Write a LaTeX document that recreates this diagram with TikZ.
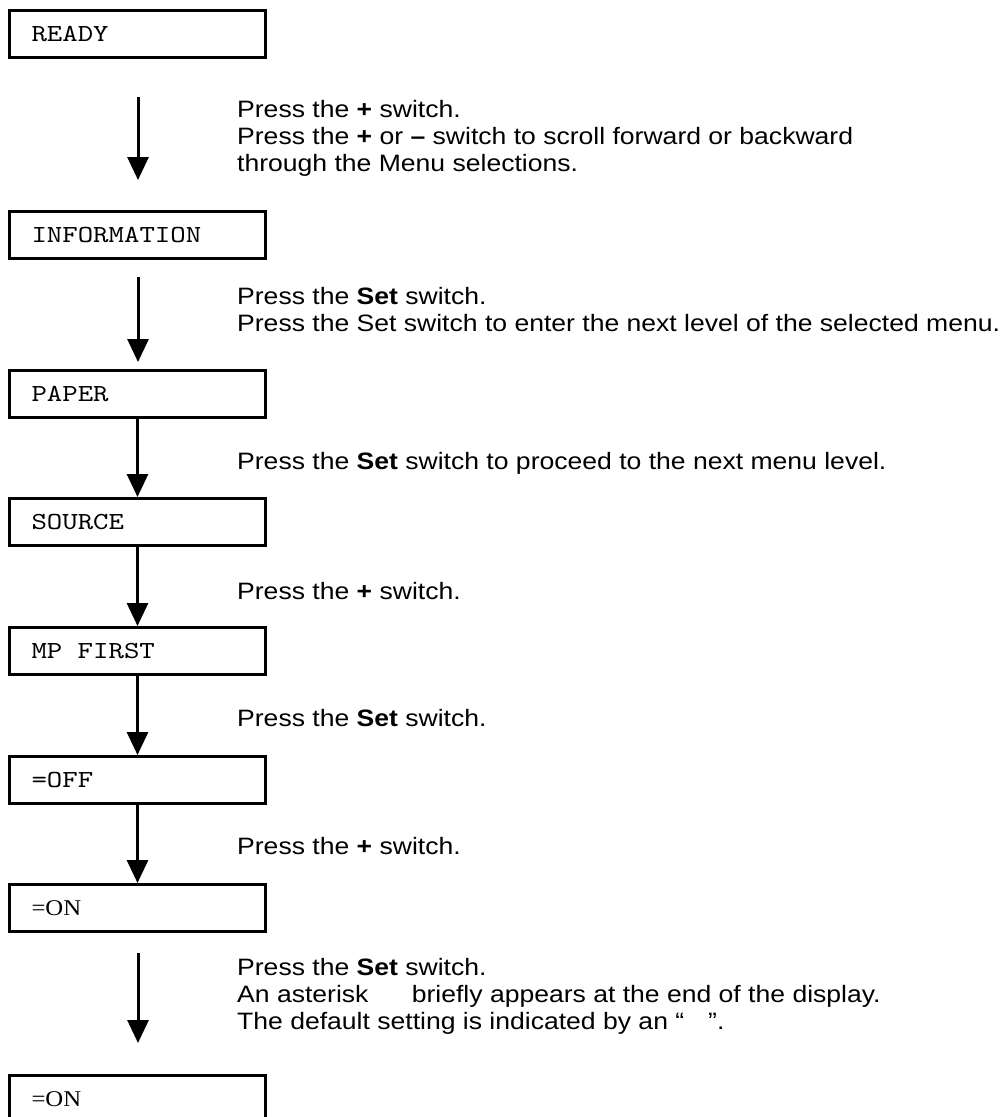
\documentclass[tikz,border=0pt]{standalone}
\usepackage{fontspec}
\usetikzlibrary{arrows.meta}
\newfontfamily\menufont[FakeStretch=1.12]{Liberation Sans}
\newfontfamily\lcdfont[FakeStretch=1.2]{lmmono10-regular.otf}
\newfontfamily\lcdsetfont[FakeStretch=1.1]{Liberation Serif}
\begin{document}
\begin{tikzpicture}[x=1pt, y=-1pt, line join=miter, >={Triangle[width=21pt,length=23pt]}]
	\tikzset{menubox/.style={draw, line width=3pt, anchor=north west, minimum width=256pt, minimum height=47pt, inner xsep=22pt, text width=212pt, align=left, font=\lcdfont\fontsize{24.5}{24.5}\selectfont}}
	\tikzset{setbox/.style={menubox, font=\lcdsetfont\fontsize{22.5}{22.5}\selectfont}}
	\tikzset{hint/.style={anchor=north west, inner sep=0pt, align=left, font=\menufont\fontsize{23.7}{27}\selectfont}}
	\tikzset{flow/.style={line width=3pt, ->}}
	%Page size
	\useasboundingbox (0,0) rectangle (1004,1117);
	\clip (0,0) rectangle (1004,1117);
	
	%Display boxes
	\node[menubox] (ready) at (8,9) {READY};
	\node[menubox] (info) at (8,210) {INFORMATION};
	\node[menubox] (paper) at (8,369) {PAPER};
	\node[menubox] (source) at (8,497) {SOURCE};
	\node[menubox] (mpfirst) at (8,626) {MP\hspace{15.4pt}FIRST};
	\node[menubox] (off) at (8,755) {=OFF};
	\node[setbox] (on) at (8,883) {=ON};
	\node[setbox] (onset) at (8,1074) {=ON};
	
	%Arrows
	\coordinate (a1) at (138,97);
	\coordinate (b1) at (138,180);
	\coordinate (a2) at (138,277);
	\coordinate (b2) at (138,362);
	\coordinate (a7) at (138,953);
	\coordinate (b7) at (138,1043);
	\draw[flow] (a1) -- (b1);
	\draw[flow] (a2) -- (b2);
	\draw[flow] (paper) -- (source);
	\draw[flow] (source) -- (mpfirst);
	\draw[flow] (mpfirst) -- (off);
	\draw[flow] (off) -- (on);
	\draw[flow] (a7) -- (b7);
	
	%Key steps
	\node[hint] (t1) at (237,100) {Press the \textbf{+} switch.\\Press the \textbf{+} or \textbf{–} switch to scroll forward or backward\\through the Menu selections.};
	\node[hint] (t2) at (237,287) {Press the \textbf{Set} switch.\\Press the Set switch to enter the next level of the selected menu.};
	\node[hint] (t3) at (237,452) {Press the \textbf{Set} switch to proceed to the next menu level.};
	\node[hint] (t4) at (237,582) {Press the \textbf{+} switch.};
	\node[hint] (t5) at (237,709) {Press the \textbf{Set} switch.};
	\node[hint] (t6) at (237,837) {Press the \textbf{+} switch.};
	\node[hint] (t7) at (237,958) {Press the \textbf{Set} switch.\\An asterisk\hspace{36pt} briefly appears at the end of the display.\\The default setting is indicated by an “\hspace{24pt}”.};
\end{tikzpicture}
\end{document}
